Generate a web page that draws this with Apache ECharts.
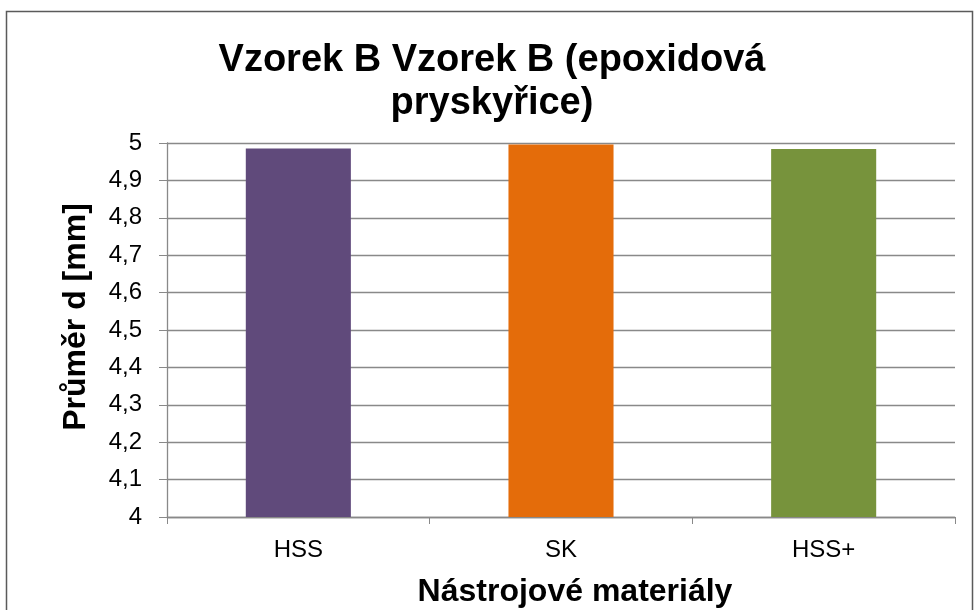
<!DOCTYPE html>
<html>
<head>
<meta charset="utf-8">
<script src="https://cdn.jsdelivr.net/npm/echarts@6/dist/echarts.min.js"></script>
<style>
  html, body { margin: 0; padding: 0; background: #fff; }
  #chart { width: 978px; height: 610px; }
</style>
</head>
<body>
<div id="chart"></div>
<script>
// values
const categories = ["HSS", "SK", "HSS+"];
const diameters = [4.985, 4.996, 4.984];
const barColors = ["#604A7B", "#E46C0A", "#77933C"];
const titleLines = ["Vzorek B Vzorek B (epoxidová", "pryskyřice)"];
const xName = "Nástrojové materiály";
const yName = "Průměr d [mm]";

const chart = echarts.init(document.getElementById("chart"));
const font = "Liberation Sans, Arial, sans-serif";

function label(text, x, y, size, rot) {
  return {
    type: "text",
    x: x, y: y,
    rotation: rot || 0,
    silent: true,
    style: {
      text: text,
      font: "bold " + size + "px " + font,
      fill: "#000",
      textAlign: "center",
      textVerticalAlign: "middle"
    }
  };
}

chart.setOption({
  animation: false,
  graphic: [
    {
      type: "rect",
      shape: { x: 6.5, y: 11.5, width: 966, height: 640 },
      style: { fill: "none", stroke: "#5a5a5a", lineWidth: 1.5 },
      silent: true
    },
    label(titleLines[0], 492, 61, 38),
    label(titleLines[1], 492, 104, 38),
    label(xName, 575, 592, 32),
    label(yName, 76, 317, 32, Math.PI / 2)
  ],
  grid: { left: 167, right: 23, top: 143, bottom: 93, containLabel: false },
  xAxis: {
    type: "category",
    data: categories,
    axisLine: { lineStyle: { color: "#898989", width: 1.3 } },
    axisTick: { show: true, length: 7, lineStyle: { color: "#898989" } },
    axisLabel: { fontFamily: font, fontSize: 24, color: "#000", margin: 21 }
  },
  yAxis: {
    type: "value",
    min: 4,
    max: 5,
    interval: 0.1,
    axisLine: { show: true, lineStyle: { color: "#898989", width: 1.3 } },
    axisTick: { show: true, length: 8, lineStyle: { color: "#898989" } },
    splitLine: { lineStyle: { color: "#898989", width: 1.3 } },
    axisLabel: {
      fontFamily: font, fontSize: 24, color: "#000", margin: 25,
      formatter: v => (Math.round(v * 10) / 10).toString().replace(".", ",")
    }
  },
  series: [{
    type: "bar",
    data: diameters.map((v, i) => ({ value: v, itemStyle: { color: barColors[i] } })),
    barWidth: "40%"
  }]
});
</script>
</body>
</html>
